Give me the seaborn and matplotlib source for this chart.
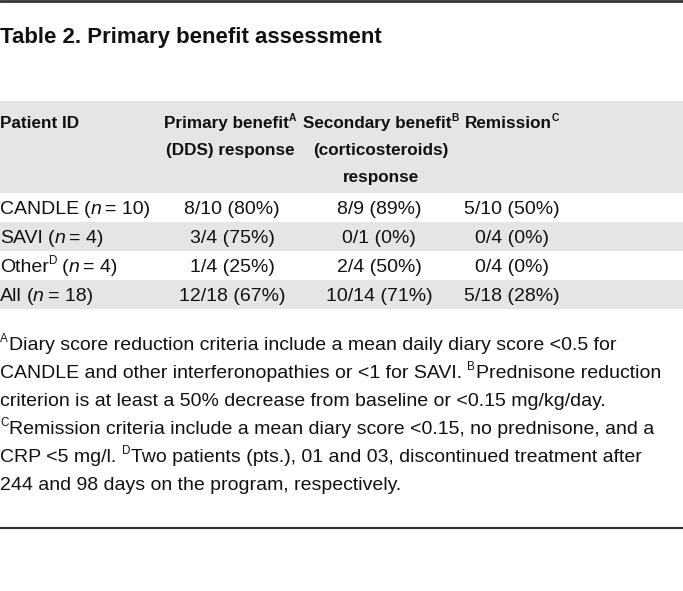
import matplotlib
matplotlib.use("Agg")
import matplotlib.pyplot as plt
import seaborn as sns

# table data
patients = ["CANDLE", "SAVI", "Other", "All"]
patient_sup = ["", "", "D", ""]
n_patients = [10, 4, 4, 18]
primary_resp = [8, 3, 1, 12]
primary_tot = [10, 4, 4, 18]
secondary_resp = [8, 0, 2, 10]
secondary_tot = [9, 1, 4, 14]
remission_resp = [5, 0, 0, 5]
remission_tot = [10, 4, 4, 18]

title = "Table 2. Primary benefit assessment"
headers = [
    [[("Patient ID", "n")]],
    [[("Primary benefit", "n"), ("A", "sup")], [("(DDS) response", "n")]],
    [[("Secondary benefit", "n"), ("B", "sup")], [("(corticosteroids)", "n")], [("response", "n")]],
    [[("Remission", "n"), ("C", "sup")]],
]
footnotes = [
    [("A", "sup"), ("Diary score reduction criteria include a mean daily diary score <0.5 for", "n")],
    [("CANDLE and other interferonopathies or <1 for SAVI. ", "n"), ("B", "sup"), ("Prednisone reduction", "n")],
    [("criterion is at least a 50% decrease from baseline or <0.15 mg/kg/day.", "n")],
    [("C", "sup"), ("Remission criteria include a mean diary score <0.15, no prednisone, and a", "n")],
    [("CRP <5 mg/l. ", "n"), ("D", "sup"), ("Two patients (pts.), 01 and 03, discontinued treatment after", "n")],
    [("244 and 98 days on the program, respectively.", "n")],
]

sns.set_theme(style="white")
plt.rcParams["font.family"] = ["Liberation Sans", "DejaVu Sans"]

W, H = 683, 591
fig = plt.figure(figsize=(W / 100, H / 100), dpi=100)
ax = fig.add_axes([0, 0, 1, 1])
ax.set_xlim(0, W)
ax.set_ylim(H, 0)
ax.axis("off")
renderer = fig.canvas.get_renderer()

BODY = 14
HEAD = 12.3
TXT = "#111111"
GREY = "#e5e5e5"


def text_width(s, size, style="normal", weight="normal"):
    t = ax.text(0, 0, s, fontsize=size, fontstyle=style, fontweight=weight)
    w = t.get_window_extent(renderer).width
    t.remove()
    return w


def draw_runs(x, y, runs, size=BODY, ha="left", weight="normal", space_scale=1.0):
    space = (text_width("a a", size, weight=weight) - text_width("aa", size, weight=weight)) * space_scale
    items = []
    for s, kind in runs:
        fs = size * 0.6 if kind == "sup" else size
        style = "italic" if kind == "it" else "normal"
        lead = len(s) - len(s.lstrip(" "))
        trail = len(s) - len(s.rstrip(" "))
        core = s.strip(" ")
        w = text_width(core, fs, style, weight) if core else 0
        items.append((core, fs, style, kind, lead * space, w, trail * space))
    total = sum(a + b + c for _, _, _, _, a, b, c in items)
    cx = x - total / 2 if ha == "center" else x
    for core, fs, style, kind, lead, w, trail in items:
        cx += lead
        dy = -size * 0.55 if kind == "sup" else 0
        if core:
            ax.text(cx, y + dy, core, fontsize=fs, fontstyle=style,
                    fontweight=weight, va="baseline", ha="left", color=TXT)
        cx += w + trail + (1 if kind == "sup" else 0)


# rules and bands
ax.axhline(1, color="#333333", lw=2)
ax.axhline(528, color="#333333", lw=1.5)
ax.axhspan(101, 193, color=GREY, lw=0)
row_top = [193, 222, 251, 280]
row_h = 29
for i, top in enumerate(row_top):
    if i % 2 == 1:
        ax.axhspan(top, top + row_h, color=GREY, lw=0)

# title
ax.text(0, 43, title, fontsize=16, fontweight="bold", va="baseline", color=TXT)

# header
head_x = [0, 230, 381, 512]
col_x = [0, 232, 379, 512]
col_ha = ["left", "center", "center", "center"]
for c, lines in enumerate(headers):
    for j, line in enumerate(lines):
        draw_runs(head_x[c], 128 + j * 27, line, size=HEAD, ha=col_ha[c], weight="bold")

# rows
for i in range(len(patients)):
    base = row_top[i] + 21
    draw_runs(col_x[0], base, [(patients[i], "n"), (patient_sup[i], "sup"),
                               (" (", "n"), ("n", "it"), (f" = {n_patients[i]})", "n")],
              space_scale=0.7)
    cells = [
        (primary_resp[i], primary_tot[i]),
        (secondary_resp[i], secondary_tot[i]),
        (remission_resp[i], remission_tot[i]),
    ]
    for c, (r, t) in enumerate(cells, start=1):
        draw_runs(col_x[c], base, [(f"{r}/{t} ({round(100 * r / t)}%)", "n")], ha="center")

# footnotes
for k, line in enumerate(footnotes):
    draw_runs(0, 350 + k * 28, line)

fig.savefig("out.png", dpi=100, facecolor="white")
